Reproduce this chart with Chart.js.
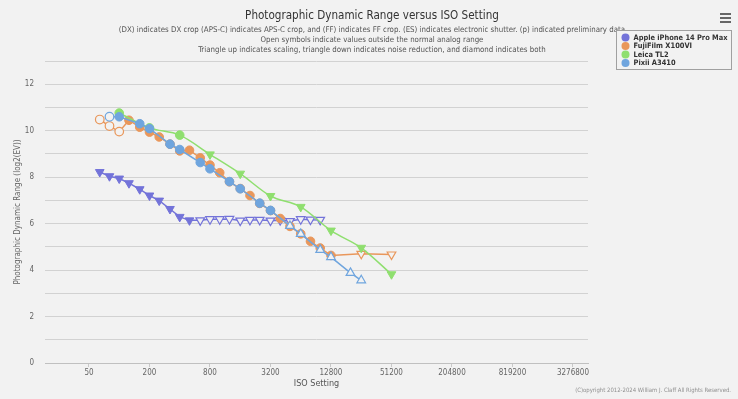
<!DOCTYPE html>
<html><head><meta charset="utf-8">
<script src="https://cdn.jsdelivr.net/npm/chart.js@4.4.1/dist/chart.umd.min.js"></script>
<style>html,body{margin:0;padding:0;background:#f2f2f2;}#wrap{width:738px;height:399px;}</style>
</head><body><div id="wrap"><canvas id="c" width="738" height="399"></canvas></div>
<script>
// ---------- DATA ----------
const seriesNames = ['Apple iPhone 14 Pro Max', 'FujiFilm X100VI', 'Leica TL2', 'Pixii A3410'];
const isoTickLabels = [50, 200, 800, 3200, 12800, 51200, 204800, 819200, 3276800];

// marker kinds: c = circle, d = triangle down (noise reduction), u = triangle up (scaling)
// open: 1 = value outside normal analog range
const appleIso = [64,80,100,125,160,200,250,320,400,500,640,800,1000,1250,1600,2000,2500,3200,4000,5000,6400,8000,10000];
const appleDR  = [8.22,8.04,7.94,7.74,7.48,7.21,6.99,6.63,6.29,6.14,6.14,6.19,6.19,6.20,6.13,6.16,6.16,6.13,6.15,6.11,6.19,6.17,6.16];
const appleKind = ['d','d','d','d','d','d','d','d','d','d','d','d','d','d','d','d','d','d','d','d','d','d','d'];
const appleOpen = [0,0,0,0,0,0,0,0,0,0,1,1,1,1,1,1,1,1,1,1,1,1,1];

const fujiIso = [64,80,100,125,160,200,250,320,400,500,640,800,1000,1250,1600,2000,2500,3200,4000,5000,6400,8000,10000,12800,25600,51200];
const fujiDR  = [10.48,10.20,9.96,10.45,10.15,9.94,9.73,9.42,9.13,9.16,8.83,8.52,8.19,7.80,7.51,7.21,6.87,6.56,6.22,5.88,5.56,5.24,4.95,4.63,4.70,4.67];
const fujiKind = ['c','c','c','c','c','c','c','c','c','c','c','c','c','c','c','c','c','c','c','c','c','c','c','c','d','d'];
const fujiOpen = [1,1,1,0,0,0,0,0,0,0,0,0,0,0,0,0,0,0,0,0,0,0,0,0,1,1];

const leicaIso = [100,200,400,800,1600,3200,6400,12800,25600,51200];
const leicaDR  = [10.76,10.12,9.81,8.98,8.15,7.19,6.72,5.70,4.96,3.82];
const leicaKind = ['c','c','c','d','d','d','d','d','d','d'];
const leicaOpen = [0,0,0,0,0,0,0,0,0,0];

const pixiiIso = [80,100,160,200,320,400,640,800,1250,1600,2500,3200,5000,6400,10000,12800,20000,25600];
const pixiiDR  = [10.60,10.60,10.30,10.09,9.42,9.19,8.63,8.36,7.81,7.50,6.88,6.57,5.90,5.56,4.87,4.56,3.88,3.56];
const pixiiKind = ['c','c','c','c','c','c','c','c','c','c','c','c','u','u','u','u','u','u'];
const pixiiOpen = [1,0,0,0,0,0,0,0,0,0,0,0,1,1,1,1,1,1];

// ---------- STYLE ----------
const BG = '#f2f2f2';
const colors = ['#7373d9', '#e9975b', '#8fdf6f', '#6fa5de'];
const TFAM = '"DejaVu Sans Condensed", "Liberation Sans", sans-serif';

function makeDataset(idx, isos, drs, kinds, opens, order, smooth) {
  const color = colors[idx];
  return {
    label: seriesNames[idx],
    data: isos.map((iso, i) => ({ x: Math.log2(iso), y: drs[i] })),
    order: order,
    borderColor: color,
    backgroundColor: color,
    borderWidth: 1.5,
    pointStyle: kinds.map(k => k === 'c' ? 'circle' : 'triangle'),
    pointRotation: kinds.map(k => k === 'd' ? 180 : 0),
    pointRadius: kinds.map(k => k === 'c' ? 4.3 : 5),
    pointBackgroundColor: opens.map(o => o ? BG : color),
    pointBorderColor: color,
    pointBorderWidth: opens.map(o => o ? 1.2 : 1),
    cubicInterpolationMode: smooth ? 'monotone' : 'default',
    tension: smooth ? 0.4 : 0
  };
}

const datasets = [
  makeDataset(0, appleIso, appleDR, appleKind, appleOpen, 4, false),
  makeDataset(1, fujiIso, fujiDR, fujiKind, fujiOpen, 3, false),
  makeDataset(2, leicaIso, leicaDR, leicaKind, leicaOpen, 2, true),
  makeDataset(3, pixiiIso, pixiiDR, pixiiKind, pixiiOpen, 1, false)
];

function fitFont(ctx, text, weight, targetW, fam) {
  ctx.font = `${weight} 20px ${fam}`;
  const w = ctx.measureText(text).width;
  return `${weight} ${(20 * targetW / w).toFixed(2)}px ${fam}`;
}

const titleText = 'Photographic Dynamic Range versus ISO Setting';
const subLines = [
  '(DX) indicates DX crop (APS-C) indicates APS-C crop, and (FF) indicates FF crop. (ES) indicates electronic shutter. (p) indicated preliminary data',
  'Open symbols indicate values outside the normal analog range',
  'Triangle up indicates scaling, triangle down indicates noise reduction, and diamond indicates both'
];
const copyrightText = '(C)opyright 2012-2024 William J. Claff All Rights Reserved.';

const decor = {
  id: 'decor',
  beforeDraw(chart) {
    const ctx = chart.ctx;
    ctx.save();
    ctx.fillStyle = BG;
    ctx.fillRect(0, 0, chart.width, chart.height);
    ctx.restore();
  },
  afterDraw(chart) {
    const ctx = chart.ctx;
    ctx.save();
    ctx.textAlign = 'center';
    ctx.textBaseline = 'middle';
    ctx.fillStyle = '#333333';
    ctx.font = fitFont(ctx, titleText, 'normal', 254, TFAM);
    ctx.fillText(titleText, 372, 16);
    ctx.fillStyle = '#555555';
    const subW = [507, 223, 348];
    const subY = [30, 40, 50];
    subLines.forEach((t, i) => {
      ctx.font = fitFont(ctx, t, 'normal', subW[i], TFAM);
      ctx.fillText(t, 372, subY[i]);
    });
    ctx.fillStyle = BG;
    ctx.fillRect(616.5, 30.5, 115, 39);
    ctx.strokeStyle = '#a0a0a0';
    ctx.lineWidth = 1;
    ctx.strokeRect(616.5, 30.5, 115, 39);
    const lf = fitFont(ctx, seriesNames[0], 'bold', 94, TFAM);
    ctx.textAlign = 'left';
    seriesNames.forEach((n, i) => {
      const y = 37.5 + i * 8.5;
      ctx.fillStyle = colors[i];
      ctx.beginPath();
      ctx.arc(625.5, y, 4, 0, Math.PI * 2);
      ctx.fill();
      ctx.fillStyle = '#333333';
      ctx.font = lf;
      ctx.fillText(n, 633.5, y + 0.5);
    });
    ctx.fillStyle = '#666666';
    [14, 18, 22].forEach(y => ctx.fillRect(720, y - 1, 11, 2));
    ctx.fillStyle = '#909090';
    ctx.textAlign = 'right';
    ctx.font = fitFont(ctx, copyrightText, 'normal', 156, TFAM);
    ctx.fillText(copyrightText, 731, 390);
    ctx.restore();
  }
};

new Chart(document.getElementById('c'), {
  type: 'line',
  data: { datasets },
  plugins: [decor],
  options: {
    responsive: false,
    animation: false,
    devicePixelRatio: 1,
    events: [],
    layout: { padding: { top: 61, right: 150, bottom: 10, left: 0 } },
    plugins: { legend: { display: false }, tooltip: { enabled: false }, title: { display: false } },
    scales: {
      x: {
        type: 'linear',
        min: 4.19,
        max: 22.14,
        afterBuildTicks(scale) {
          scale.ticks = isoTickLabels.map(v => ({ value: Math.log2(v) }));
        },
        afterFit(scale) { scale.height = 26; },
        ticks: {
          autoSkip: false, maxRotation: 0, padding: 1,
          font: { family: TFAM, size: 8 }, color: '#666666',
          callback: (v, i) => String(isoTickLabels[i])
        },
        grid: { display: true, drawOnChartArea: false, drawTicks: true, tickLength: 4, color: '#c8c8c8' },
        border: { display: true, color: '#c0c0c0' },
        title: { display: true, text: 'ISO Setting', color: '#555555', font: { family: TFAM, size: 9 }, padding: { top: 0, bottom: 0 } }
      },
      y: {
        min: 0, max: 13,
        afterFit(scale) { scale.width = 45; },
        ticks: {
          stepSize: 1, padding: 11,
          font: { family: TFAM, size: 8 }, color: '#666666',
          callback: v => (v % 2 === 0 ? String(v) : '')
        },
        grid: { color: '#d2d2d2', drawTicks: false },
        border: { display: false },
        title: { display: true, text: 'Photographic Dynamic Range (log2(EV))', color: '#666666', font: { family: TFAM, size: 8 }, padding: { top: 13, bottom: 0 } }
      }
    }
  }
});
</script>
</body></html>
